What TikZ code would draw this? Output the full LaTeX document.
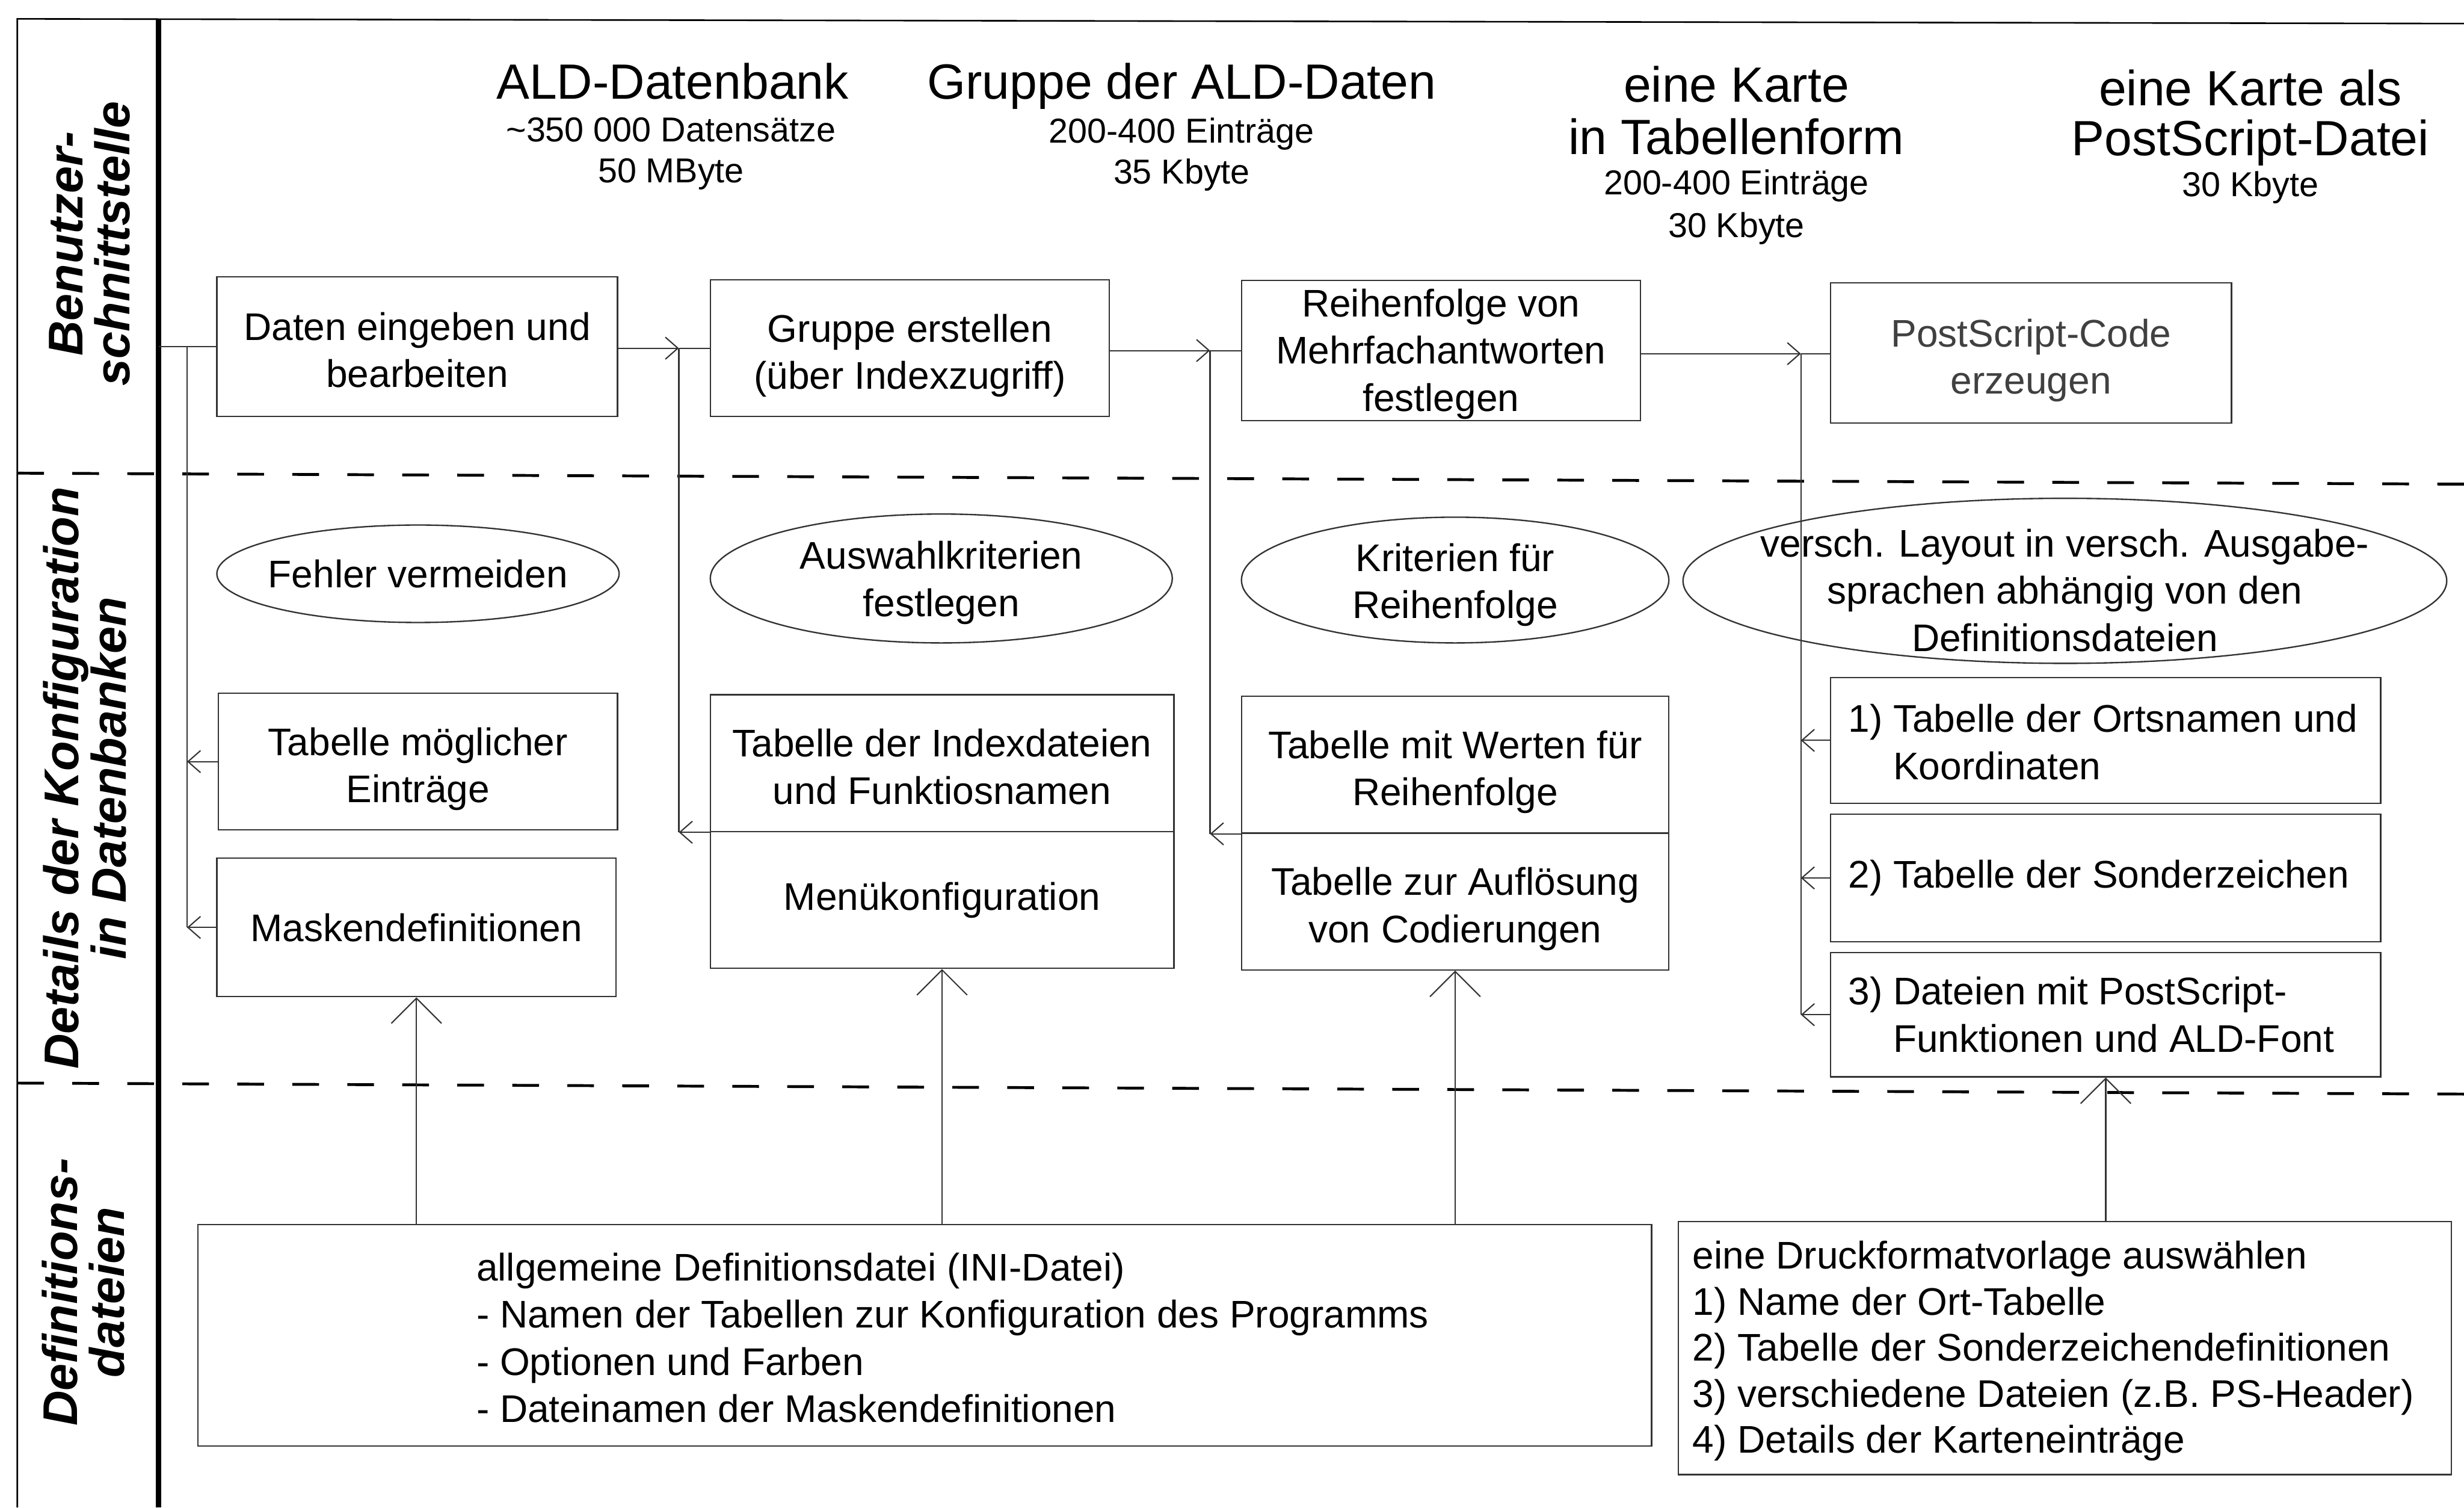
\documentclass[tikz,border=0pt]{standalone}
\usepackage{fontspec}
\setmainfont{Liberation Sans}
\usetikzlibrary{arrows.meta,shapes.geometric}
\newcommand\mybodyfont{\fontsize{24.5}{30}\selectfont}
\newcommand\myhdrfont{\fontsize{31.5}{33}\selectfont}
\newcommand\mysubfont{\fontsize{22}{27}\selectfont}
\newcommand\mylanefont{\fontsize{31}{30}\selectfont\bfseries\itshape}
\newcommand\strtop{\rule{0pt}{28pt}}
\newcommand\strbot{\rule[-6pt]{0pt}{6pt}}
\begin{document}
\begin{tikzpicture}[x=1pt,y=-1pt,
  box/.style={draw=black!80, line width=0.9pt, rectangle, inner sep=0pt, align=center, font=\mybodyfont},
  oval/.style={draw=black!80, line width=0.9pt, ellipse, inner sep=0pt},
  label/.style={font=\mybodyfont, align=center, inner sep=0pt},
  conn/.style={draw=black!80, line width=0.8pt},
  arr/.style={conn, -{Straight Barb[length=8pt,width=14pt]}},
  bigarr/.style={conn, -{Straight Barb[length=16pt,width=32pt]}},
  sepline/.style={line width=1.8pt, dash pattern=on 17pt off 18pt},
  hdr/.style={font=\myhdrfont, anchor=base, inner sep=0pt},
  subhdr/.style={font=\mysubfont, anchor=base, inner sep=0pt},
  lane/.style={font=\mylanefont, rotate=90, align=center, inner sep=0pt},
  txt/.style={font=\mybodyfont, align=left, anchor=west, inner sep=0pt},
]
\useasboundingbox (0,0) rectangle (1568,959);
\fill[white] (0,0) rectangle (1568,959);

% frame and lanes
\draw[line width=1pt] (1568,15) -- (11,12) -- (11,959);
\draw[line width=3.4pt] (101,12) -- (101,959);
\draw[sepline] (11,301) -- (1568,308);
\draw[sepline] (11,689) -- (1568,696);

\node[lane] (l1) at (57,155) {Benutzer-\\schnittstelle};
\node[lane] (l2) at (54,495) {Details der Konfiguration\\in Datenbanken};
\node[lane] (l3) at (53,822) {Definitions-\\dateien};

% headers
\node[hdr] (h1) at (428,63) {ALD-Datenbank};
\node[subhdr] (h1a) at (427,90) {\textasciitilde 350 000 Datensätze};
\node[subhdr] (h1b) at (427,116) {50 MByte};
\node[hdr] (h2) at (752,63) {Gruppe der ALD-Daten};
\node[subhdr] (h2a) at (752,91) {200-400 Einträge};
\node[subhdr] (h2b) at (752,117) {35 Kbyte};
\node[hdr] (h3) at (1105,65) {eine Karte};
\node[hdr] (h3a) at (1105,98) {in Tabellenform};
\node[subhdr] (h3b) at (1105,124) {200-400 Einträge};
\node[subhdr] (h3c) at (1105,151) {30 Kbyte};
\node[hdr] (h4) at (1432,67) {eine Karte als};
\node[hdr] (h4a) at (1432,99) {PostScript-Datei};
\node[subhdr] (h4b) at (1432,125) {30 Kbyte};

% row 1
\node[box, minimum width=255pt, minimum height=89pt] (b1) at (265.5,220.5) {\strtop Daten eingeben und\\bearbeiten\strbot};
\node[box, minimum width=254pt, minimum height=87pt] (b2) at (579,221.5) {\strtop Gruppe erstellen\\(über Indexzugriff)\strbot};
\node[box, minimum width=254pt, minimum height=88pt] (b3) at (917,223) {\rule{0pt}{23pt}Reihenfolge von\\Mehrfachantworten\\festlegen\strbot};
\node[box, minimum width=255pt, minimum height=89pt, text=black!75] (b4) at (1292.5,224.5) {\strtop PostScript-Code\\erzeugen\strbot};

% ellipses
\node[oval, minimum width=256pt, minimum height=62pt] (e1) at (266,365) {};
\node[label] (e1t) at (266,365) {Fehler vermeiden};
\node[oval, minimum width=294pt, minimum height=82pt] (e2) at (599,368) {};
\node[label] (e2t) at (599,366) {\strtop Auswahlkriterien\\festlegen\strbot};
\node[oval, minimum width=272pt, minimum height=80pt] (e3) at (926,369) {};
\node[label] (e3t) at (926,367.5) {\strtop Kriterien für\\Reihenfolge\strbot};
\node[oval, minimum width=486pt, minimum height=105pt] (e4) at (1314,369.5) {};
\node[label] (e4t) at (1314,375.5) {versch. Layout in versch. Ausgabe-\\sprachen abhängig von den\\Definitionsdateien};

% middle boxes
\node[box, minimum width=254pt, minimum height=87pt] (t1) at (266,484.5) {\strtop Tabelle möglicher\\Einträge\strbot};
\node[box, minimum width=254pt, minimum height=88pt] (t2) at (265,590) {Maskendefinitionen};
\node[box, minimum width=295pt, minimum height=87pt] (t3) at (599.5,485.5) {\strtop Tabelle der Indexdateien\\und Funktiosnamen\strbot};
\node[box, minimum width=295pt, minimum height=87pt] (t4) at (599.5,572.5) {Menükonfiguration};
\node[box, minimum width=272pt, minimum height=87pt] (t5) at (926,486.5) {\strtop Tabelle mit Werten für\\Reihenfolge\strbot};
\node[box, minimum width=272pt, minimum height=87pt] (t6) at (926,573.5) {\strtop Tabelle zur Auflösung\\von Codierungen\strbot};

\node[box, minimum width=350pt, minimum height=80pt] (r1) at (1340,471) {};
\node[box, minimum width=350pt, minimum height=81pt] (r2) at (1340,558.5) {};
\node[box, minimum width=350pt, minimum height=79pt] (r3) at (1340,645.5) {};
\node[txt] (r1t) at (1176,472) {1) Tabelle der Ortsnamen und\\\hphantom{1) }Koordinaten};
\node[txt] (r2t) at (1176,558.5) {2) Tabelle der Sonderzeichen};
\node[txt] (r3t) at (1176,645.5) {3) Dateien mit PostScript-\\\hphantom{3) }Funktionen und ALD-Font};

% bottom boxes
\node[box, minimum width=925pt, minimum height=141pt] (d1) at (588.5,849.5) {};
\node[txt] (d1t) at (303,851) {allgemeine Definitionsdatei (INI-Datei)\\- Namen der Tabellen zur Konfiguration des Programms\\- Optionen und Farben\\- Dateinamen der Maskendefinitionen};
\node[box, minimum width=492pt, minimum height=161pt] (d2) at (1314,857.5) {};
\node[txt, font=\fontsize{24.5}{29.3}\selectfont] (d2t) at (1077,859.5) {eine Druckformatvorlage auswählen\\1) Name der Ort-Tabelle\\2) Tabelle der Sonderzeichendefinitionen\\3) verschiedene Dateien (z.B. PS-Header)\\4) Details der Karteneinträge};

% connectors
\coordinate (in) at (101,220.5);
\coordinate (j0) at (119,220.5);
\coordinate (j1) at (432,221.5);
\coordinate (j2) at (770,223);
\coordinate (j3) at (1146,225);

\draw[conn] (in) -- (b1.west);
\draw[conn] (j0) -- (j0 |- t2.west);
\draw[arr] (t1.west) -- (t1.west -| j0);
\draw[arr] (t2.west) -- (t2.west -| j0);

\draw[arr] (b1.east |- j1) -- (j1);
\draw[conn] (j1) -- (b2.west |- j1);
\draw[conn] (j1) -- (j1 |- t3.south west);
\draw[arr] (t3.south west) -- (t3.south west -| j1);

\draw[arr] (b2.east |- j2) -- (j2);
\draw[conn] (j2) -- (b3.west |- j2);
\draw[conn] (j2) -- (j2 |- t5.south west);
\draw[arr] (t5.south west) -- (t5.south west -| j2);

\draw[arr] (b3.east |- j3) -- (j3);
\draw[conn] (j3) -- (b4.west |- j3);
\draw[conn] (j3) -- (j3 |- r3.west);
\draw[arr] (r1.west) -- (r1.west -| j3);
\draw[arr] (r2.west) -- (r2.west -| j3);
\draw[arr] (r3.west) -- (r3.west -| j3);

\draw[bigarr] (t2.south |- d1.north) -- (t2.south);
\draw[bigarr] (t4.south |- d1.north) -- (t4.south);
\draw[bigarr] (t6.south |- d1.north) -- (t6.south);
\draw[bigarr] (r3.south |- d2.north) -- (r3.south);
\end{tikzpicture}
\end{document}
